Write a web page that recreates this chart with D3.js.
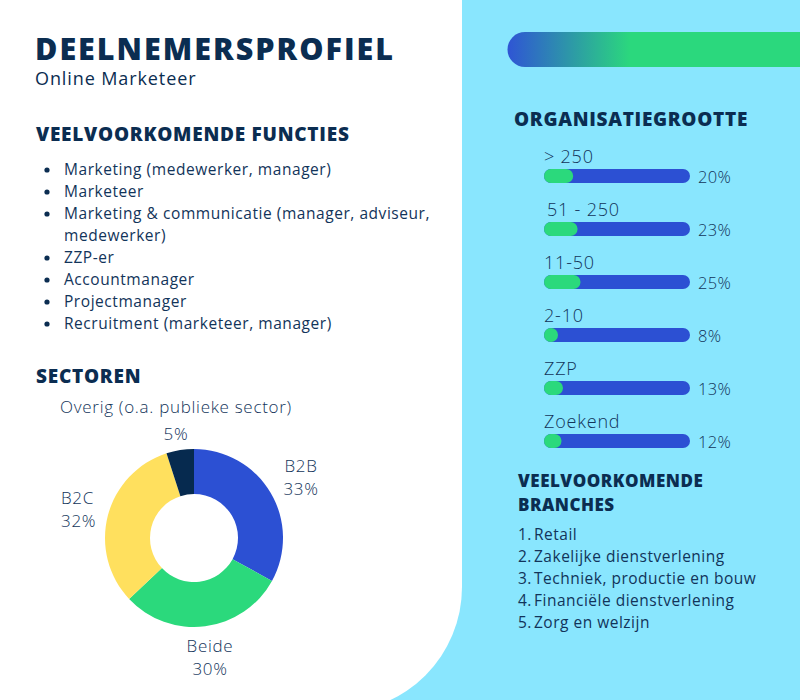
<!DOCTYPE html>
<html><head><meta charset="utf-8">
<script src="https://cdn.jsdelivr.net/npm/d3@7"></script>
<style>
html,body{margin:0;padding:0;background:#fff;}
svg{display:block;font-family:"Open Sans",sans-serif;}
</style></head>
<body>
<svg id="c" width="800" height="700"></svg>
<script>
const title = "DEELNEMERSPROFIEL";
const subtitle = "Online Marketeer";
const functiesTitle = "VEELVOORKOMENDE FUNCTIES";
const functies = [
  ["Marketing (medewerker, manager)"],
  ["Marketeer"],
  ["Marketing & communicatie (manager, adviseur,", "medewerker)"],
  ["ZZP-er"],
  ["Accountmanager"],
  ["Projectmanager"],
  ["Recruitment (marketeer, manager)"]
];
const sectorTitle = "SECTOREN";
const sectorLabels = ["B2B", "Beide", "B2C", "Overig (o.a. publieke sector)"];
const sectorValues = [33, 30, 32, 5];
const orgTitle = "ORGANISATIEGROOTTE";
const orgCategories = ["> 250", "51 - 250", "11-50", "2-10", "ZZP", "Zoekend"];
const orgValues = [20, 23, 25, 8, 13, 12];
const branchesTitle = ["VEELVOORKOMENDE", "BRANCHES"];
const branches = ["Retail", "Zakelijke dienstverlening", "Techniek, productie en bouw", "Financiële dienstverlening", "Zorg en welzijn"];

const NAVY = "#0b2d51", TEXT = "#12345a";
const BLUE = "#2c50d3", GREEN = "#2bd97c", YELLOW = "#ffe05e", DARK = "#062a4f";
const svg = d3.select("#c");

// backgrounds
svg.append("rect").attr("width",800).attr("height",700).attr("fill","#89e6fe");
svg.append("path").attr("fill","#fff")
  .attr("d", (()=>{const p=d3.path(); const R=125, W=462, H=712;
    p.moveTo(0,0); p.lineTo(W,0); p.lineTo(W,H-R); p.arcTo(W,H,W-R,H,R); p.lineTo(0,H); p.closePath(); return p.toString();})());

// gradient bar top-right
const defs = svg.append("defs");
const g = defs.append("linearGradient").attr("id","gb").attr("x1","0").attr("x2","1");
g.append("stop").attr("offset","0%").attr("stop-color","#2f55d4");
g.append("stop").attr("offset","42%").attr("stop-color","#2bd87d");
g.append("stop").attr("offset","100%").attr("stop-color","#2bd87d");
svg.append("path").attr("fill","url(#gb)")
  .attr("d","M525,32 H800 V67 H525 A17.5,17.5 0 0 1 525,32 Z");

// title
svg.append("text").attr("x",35).attr("y",60).attr("fill",NAVY)
  .attr("font-size",30.5).attr("font-weight",800).attr("letter-spacing",2).text(title);
svg.append("text").attr("x",35).attr("y",85).attr("fill",NAVY)
  .attr("font-size",18).attr("letter-spacing",0.9).text(subtitle);

// functies
svg.append("text").attr("x",36).attr("y",141).attr("fill",NAVY)
  .attr("font-size",19).attr("font-weight",800).attr("letter-spacing",0.75).text(functiesTitle);
let ly = 175;
const fl = svg.append("g");
functies.forEach(item => {
  fl.append("circle").attr("cx",47).attr("cy",ly-5).attr("r",2.6).attr("fill",NAVY);
  item.forEach(line => {
    fl.append("text").attr("x",64).attr("y",ly).attr("fill",TEXT).attr("font-size",15.5)
      .attr("letter-spacing",0.55).text(line);
    ly += 22;
  });
});

// sectoren
svg.append("text").attr("x",36).attr("y",383).attr("fill",NAVY)
  .attr("font-size",19).attr("font-weight",800).attr("letter-spacing",0.75).text(sectorTitle);
const cx = 194, cy = 538;
const pie = d3.pie().sort(null).value(d=>d)(sectorValues);
const arc = d3.arc().innerRadius(44).outerRadius(89);
const colors = d3.scaleOrdinal().domain(sectorLabels).range([BLUE, GREEN, YELLOW, DARK]);
const dg = svg.append("g").attr("transform",`translate(${cx},${cy})`);
dg.selectAll("path").data(pie).join("path")
  .attr("d",arc).attr("fill",(d,i)=>colors(sectorLabels[i]));
// label layout (relative to centre)
const labelPos = [
  {x:107, y:-66, anchor:"middle", gap:23},
  {x:16, y:114, anchor:"middle", gap:23},
  {x:-133, y:-34, anchor:"start", gap:23},
  {x:-18, y:-125, anchor:"middle", gap:27}
];
pie.forEach((d,i)=>{
  const p = labelPos[i];
  const t = dg.append("text").attr("text-anchor",p.anchor).attr("fill",TEXT)
    .attr("font-size",17).attr("font-weight",300).attr("letter-spacing",0.7);
  t.append("tspan").attr("x",p.x).attr("y",p.y).text(sectorLabels[i]);
  t.append("tspan").attr("x",p.x).attr("y",p.y+p.gap).text(sectorValues[i]+"%");
});

// organisatiegrootte
svg.append("text").attr("x",514).attr("y",126).attr("fill",NAVY)
  .attr("font-size",19).attr("font-weight",800).attr("letter-spacing",0.7).text(orgTitle);
const x = d3.scaleLinear().domain([0,100]).range([0,146]);
const y = d3.scaleBand().domain(orgCategories).range([169, 169+6*53]).paddingInner(0);
const bh = 14;
const og = svg.append("g").attr("transform","translate(544,0)");
const rows = og.selectAll("g.row").data(orgCategories).join("g").attr("class","row")
  .attr("transform",c=>`translate(0,${y(c)})`);
rows.append("text").attr("x",(c,i)=>i===1?3:0).attr("y",-6).attr("fill",TEXT)
  .attr("font-size",18).attr("font-weight",300).attr("letter-spacing",0.8).text(c=>c);
rows.append("rect").attr("width",x(100)).attr("height",bh).attr("rx",bh/2).attr("fill",BLUE);
rows.append("rect").attr("width",(c,i)=>Math.max(x(orgValues[i]),bh)).attr("height",bh).attr("rx",bh/2).attr("fill",GREEN);
rows.append("text").attr("x",154).attr("y",bh).attr("fill",TEXT)
  .attr("font-size",16.5).attr("font-weight",300).attr("letter-spacing",0.3).text((c,i)=>orgValues[i]+"%");

// branches
branchesTitle.forEach((t,i)=>{
  svg.append("text").attr("x",518).attr("y",487+i*24).attr("fill",NAVY)
    .attr("font-size",17).attr("font-weight",800).attr("letter-spacing",0.5).text(t);
});
branches.forEach((b,i)=>{
  svg.append("text").attr("x",518).attr("y",540+i*22).attr("fill",TEXT)
    .attr("font-size",15.5).attr("letter-spacing",0.5).text((i+1)+".");
  svg.append("text").attr("x",534).attr("y",540+i*22).attr("fill",TEXT)
    .attr("font-size",15.5).attr("letter-spacing",0.5).text(b);
});
</script>
</body></html>
